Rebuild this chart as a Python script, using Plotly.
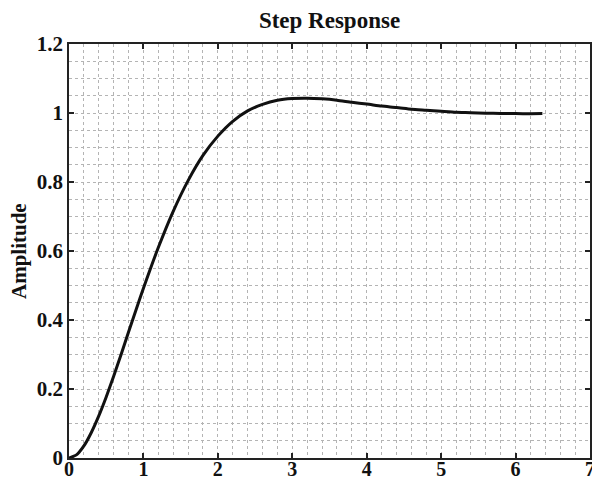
import plotly.graph_objects as go

# Data
time_s = [0.0, 0.1, 0.2, 0.3, 0.4, 0.5, 0.6, 0.7, 0.8, 0.9, 1.0, 1.2, 1.4, 1.6, 1.8, 2.0, 2.2, 2.4,
          2.6, 2.8, 3.0, 3.2, 3.4, 3.6, 3.8, 4.0, 4.2, 4.4, 4.6, 4.8, 5.0, 5.2, 5.4,
          5.6, 5.8, 6.0, 6.2, 6.36]
amplitude = [0.0, 0.009, 0.035, 0.074, 0.122, 0.177, 0.237, 0.300, 0.365, 0.429, 0.492, 0.610, 0.715, 0.804, 0.877, 0.933, 0.976, 1.006,
             1.025, 1.037, 1.042, 1.043, 1.041, 1.037, 1.031, 1.026, 1.020, 1.016, 1.011, 1.008, 1.005, 1.002, 1.001,
             0.9995, 0.9987, 0.9983, 0.9981, 0.9982]

x_ticks = [0, 1, 2, 3, 4, 5, 6, 7]
y_ticks = [0, 0.2, 0.4, 0.6, 0.8, 1.0, 1.2]
y_tick_text = ["0", "0.2", "0.4", "0.6", "0.8", "1", "1.2"]

title_text = "Step Response"
y_label = "Amplitude"

FONT = "Liberation Serif, Times New Roman, serif"

fig = go.Figure()
fig.add_trace(go.Scatter(
    x=time_s, y=amplitude, mode="lines",
    line=dict(color="#111111", width=3, shape="spline", smoothing=0.6),
    showlegend=False, hoverinfo="skip",
))

grid_color = "#b4b4b4"
axis_common = dict(
    showline=True, linecolor="#222222", linewidth=1.5, mirror="allticks",
    ticks="inside", ticklen=5, tickwidth=1.5, tickcolor="#222222",
    showgrid=True, gridcolor=grid_color, griddash="dot", gridwidth=1,
    zeroline=False, ticklabeloverflow="allow", automargin=False,
    tickfont=dict(family=FONT, size=21, color="#111111", weight="bold"),
)

fig.update_xaxes(
    range=[0, 7], tickvals=x_ticks, ticktext=[str(v) for v in x_ticks],
    minor=dict(dtick=0.2, showgrid=True, gridcolor=grid_color, griddash="dot", gridwidth=1, ticks=""),
    ticklabelstandoff=-8,
    **axis_common,
)
fig.update_xaxes(tickfont=dict(family=FONT, size=20, color="#111111", weight="bold"))
fig.update_yaxes(
    range=[0, 1.2], tickvals=y_ticks, ticktext=y_tick_text,
    minor=dict(dtick=0.05, showgrid=True, gridcolor=grid_color, griddash="dot", gridwidth=1, ticks=""),
    ticklabelstandoff=0,
    **axis_common,
)

fig.update_layout(
    width=592, height=483,
    margin=dict(l=69, r=2, t=44, b=25),
    paper_bgcolor="white", plot_bgcolor="white",
    title=dict(text=title_text, x=(69 + 590) / 2 / 592, xanchor="center",
               y=1 - 20 / 483, yanchor="middle", yref="container", automargin=False,
               font=dict(family=FONT, size=23, color="#111111", weight="bold")),
    annotations=[dict(text=y_label, xref="paper", yref="paper", x=0, y=0.5,
                      xshift=-50, xanchor="center", yanchor="middle", textangle=-90,
                      showarrow=False,
                      font=dict(family=FONT, size=21, color="#111111", weight="bold"))],
)

fig.write_html("out.html", config={"displayModeBar": False},
               post_script="document.body.style.margin='0';document.body.style.overflow='hidden';")
